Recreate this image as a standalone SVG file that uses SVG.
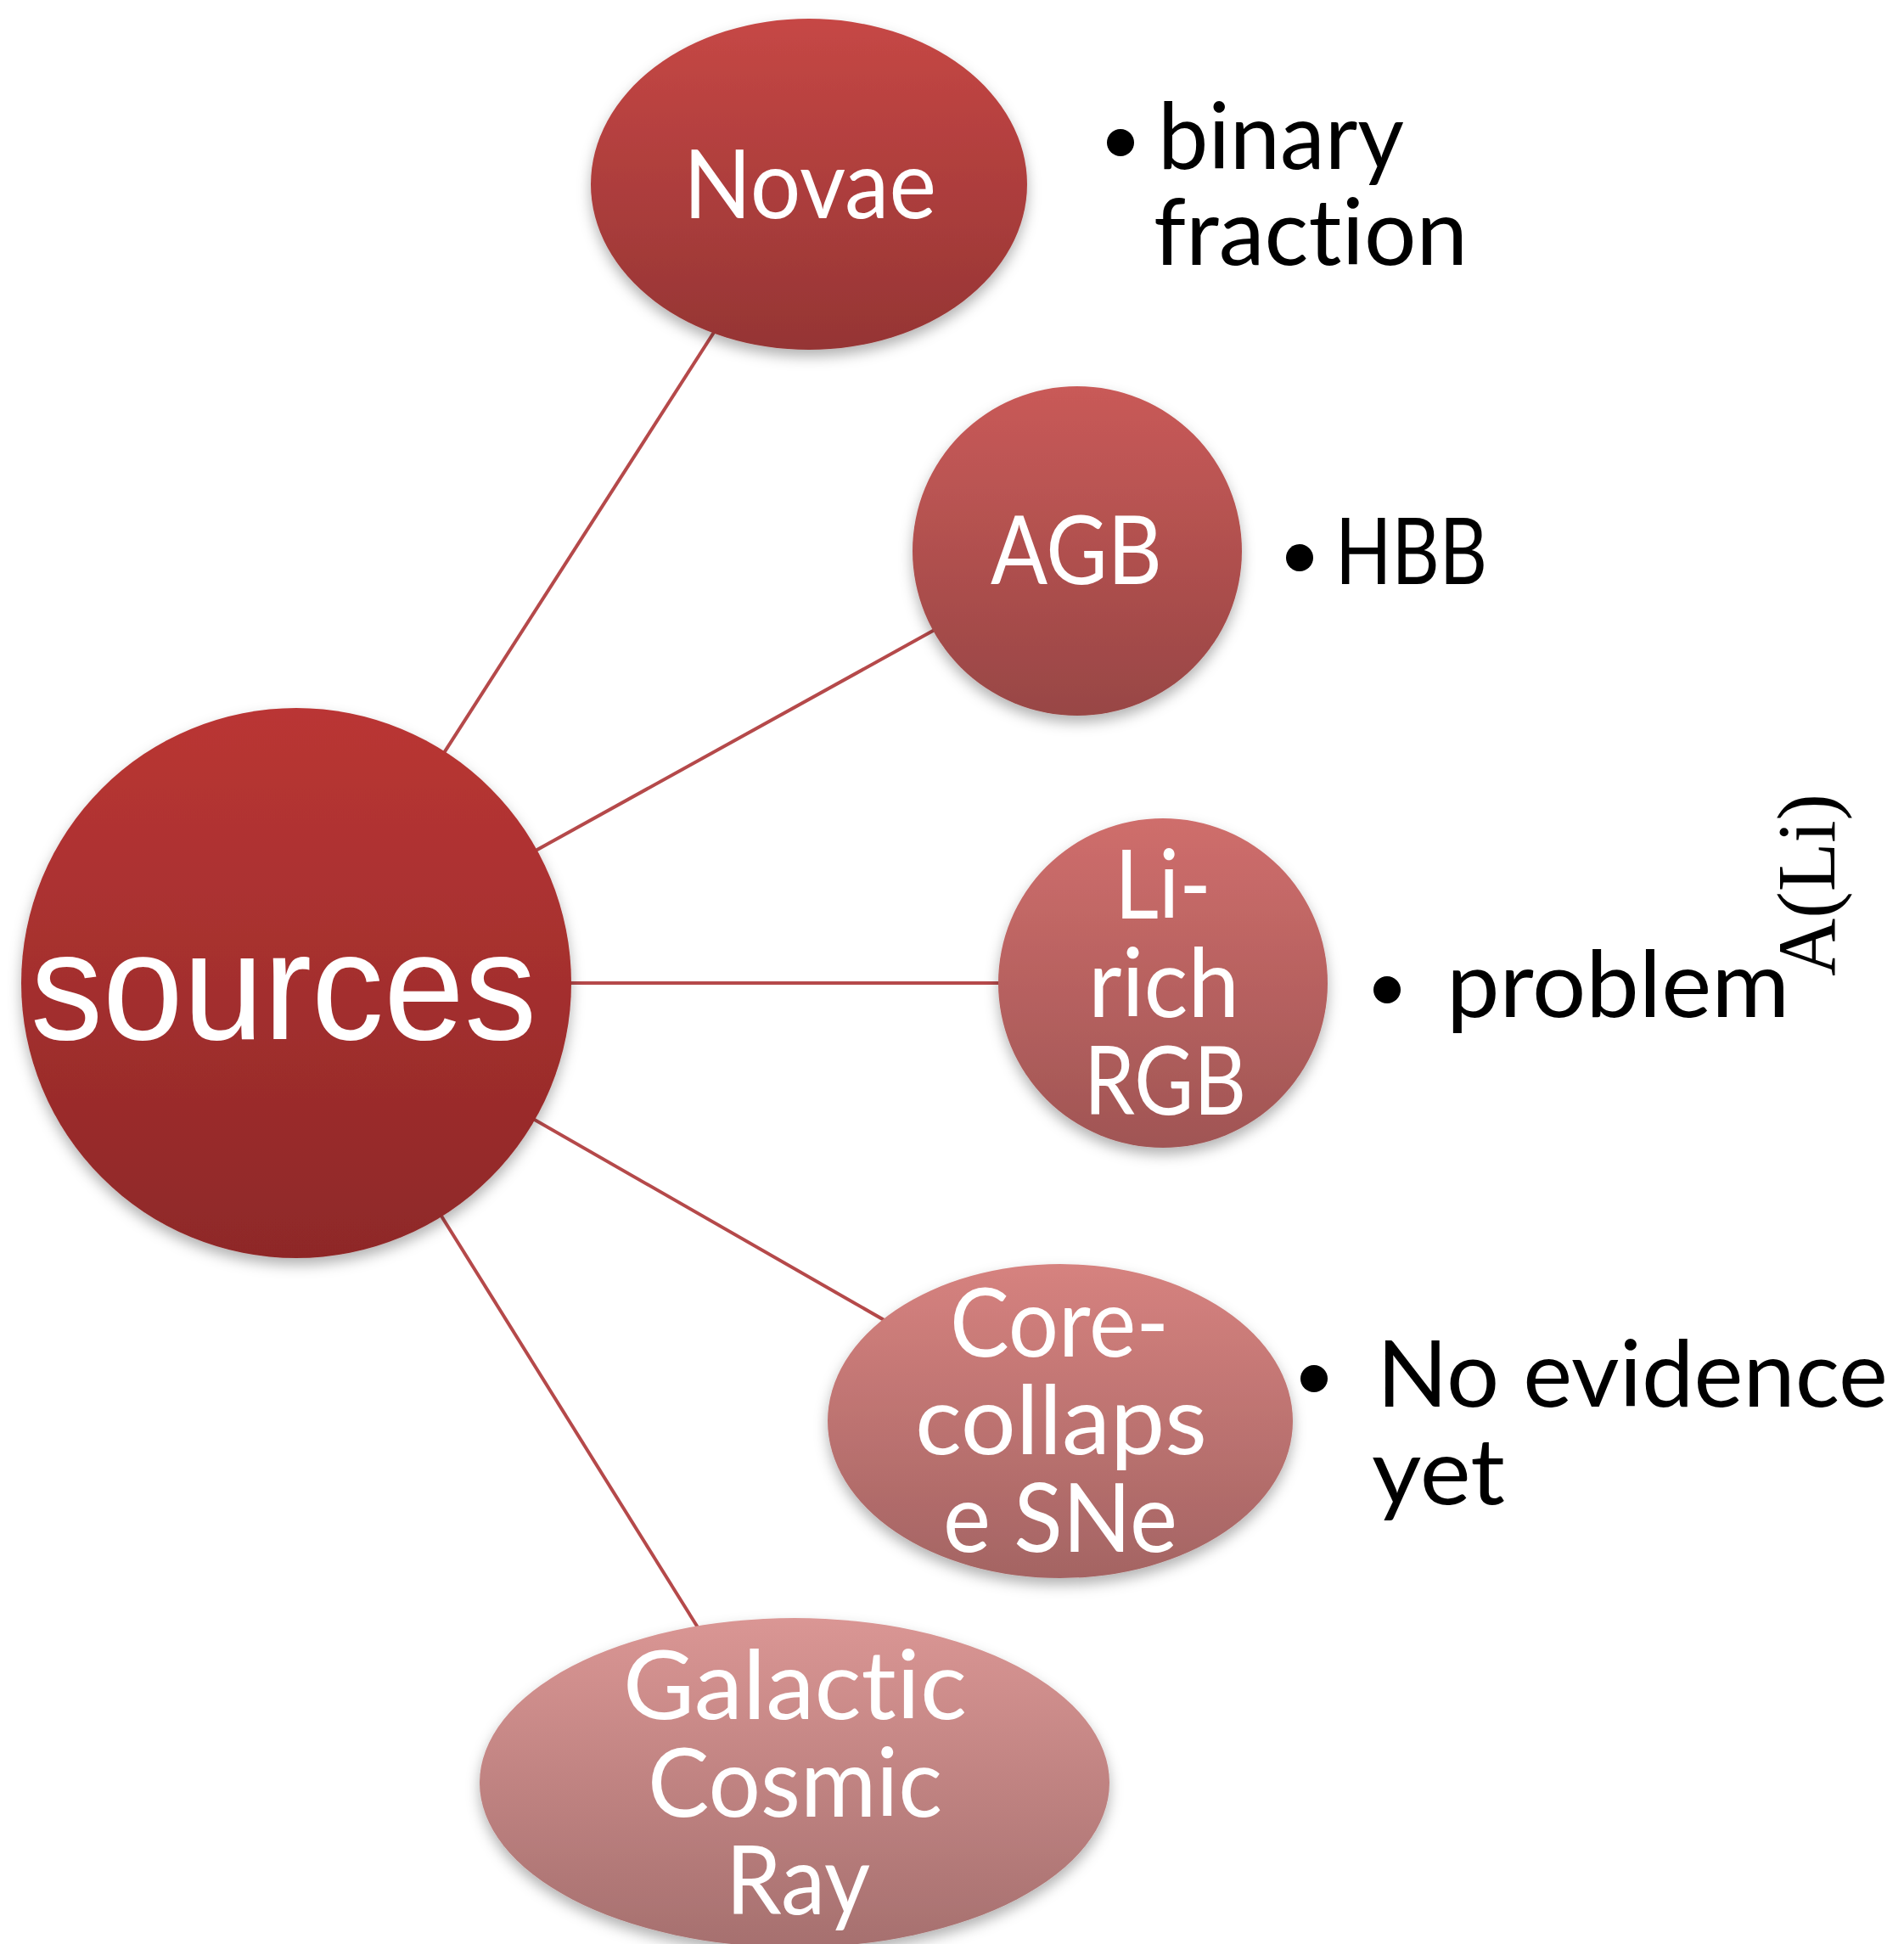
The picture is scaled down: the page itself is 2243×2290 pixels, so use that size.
<svg xmlns="http://www.w3.org/2000/svg" width="2243" height="2290" viewBox="0 0 2243 2290">
<style>
.lbl{font-family:Lato,"Open Sans","Liberation Sans",sans-serif;font-size:112px;fill:#ffffff;font-variant-ligatures:none;font-feature-settings:"liga" 0,"clig" 0,"dlig" 0}
.big{font-family:"Liberation Sans",Arial,sans-serif;font-size:180px;fill:#ffffff}
.note{font-family:Lato,"Open Sans","Liberation Sans",sans-serif;font-size:108px;fill:#000000;font-variant-ligatures:none;font-feature-settings:"liga" 0,"clig" 0,"dlig" 0}
.conn{stroke:#b5494a;stroke-width:4;fill:none}
.dot{fill:#000000}
</style>
<defs>
<filter id="sh" x="-20%" y="-20%" width="140%" height="150%">
<feDropShadow dx="0" dy="8" stdDeviation="8" flood-color="#000000" flood-opacity="0.3"/>
</filter>
<linearGradient id="g0" x1="0" y1="0" x2="0" y2="1"><stop offset="0" stop-color="#ba3634"/><stop offset="1" stop-color="#8e2828"/></linearGradient>
<linearGradient id="g1" x1="0" y1="0" x2="0" y2="1"><stop offset="0" stop-color="#c64745"/><stop offset="1" stop-color="#953534"/></linearGradient>
<linearGradient id="g2" x1="0" y1="0" x2="0" y2="1"><stop offset="0" stop-color="#c95a58"/><stop offset="1" stop-color="#984645"/></linearGradient>
<linearGradient id="g3" x1="0" y1="0" x2="0" y2="1"><stop offset="0" stop-color="#cf6e6c"/><stop offset="1" stop-color="#a05554"/></linearGradient>
<linearGradient id="g4" x1="0" y1="0" x2="0" y2="1"><stop offset="0" stop-color="#d6827f"/><stop offset="1" stop-color="#a46463"/></linearGradient>
<linearGradient id="g5" x1="0" y1="0" x2="0" y2="1"><stop offset="0" stop-color="#da9694"/><stop offset="1" stop-color="#a6706f"/></linearGradient>
</defs>
<rect width="2243" height="2290" fill="#ffffff"/>
<g id="connectors">
<line class="conn" x1="349" y1="1158" x2="953" y2="217"/>
<line class="conn" x1="349" y1="1158" x2="1269" y2="649"/>
<line class="conn" x1="349" y1="1158" x2="1370" y2="1158"/>
<line class="conn" x1="349" y1="1158" x2="1249" y2="1674"/>
<line class="conn" x1="349" y1="1158" x2="936" y2="2100"/>
</g>
<g id="node-sources">
<circle cx="349" cy="1158" r="324" fill="url(#g0)" filter="url(#sh)"/>
<text class="big" x="36" y="1224" textLength="596" lengthAdjust="spacingAndGlyphs">sources</text>
</g>
<g id="node-novae">
<ellipse cx="953" cy="217" rx="257" ry="195" fill="url(#g1)" filter="url(#sh)"/>
<text class="lbl" x="805" y="257" textLength="298" lengthAdjust="spacingAndGlyphs">Novae</text>
</g>
<g id="node-agb">
<circle cx="1269" cy="649" r="194" fill="url(#g2)" filter="url(#sh)"/>
<text class="lbl" x="1167" y="688" textLength="202" lengthAdjust="spacingAndGlyphs">AGB</text>
</g>
<g id="node-lirgb">
<circle cx="1370" cy="1158" r="194" fill="url(#g3)" filter="url(#sh)"/>
<text class="lbl" x="1313" y="1082" textLength="114" lengthAdjust="spacingAndGlyphs">Li-</text>
<text class="lbl" x="1282" y="1198" textLength="178" lengthAdjust="spacingAndGlyphs">rich</text>
<text class="lbl" x="1277" y="1313" textLength="191" lengthAdjust="spacingAndGlyphs">RGB</text>
</g>
<g id="node-ccsne">
<ellipse cx="1249" cy="1674" rx="274" ry="185" fill="url(#g4)" filter="url(#sh)"/>
<text class="lbl" x="1119" y="1598" textLength="258" lengthAdjust="spacingAndGlyphs">Core-</text>
<text class="lbl" x="1078" y="1713" textLength="344" lengthAdjust="spacingAndGlyphs">collaps</text>
<text class="lbl" x="1111" y="1828" textLength="276" lengthAdjust="spacingAndGlyphs">e SNe</text>
</g>
<g id="node-gcr">
<ellipse cx="936" cy="2100" rx="371" ry="194" fill="url(#g5)" filter="url(#sh)"/>
<text class="lbl" x="734" y="2025" textLength="405" lengthAdjust="spacingAndGlyphs">Galact<tspan dx="0.5">ic</tspan></text>
<text class="lbl" x="763" y="2140" textLength="347" lengthAdjust="spacingAndGlyphs">Cosmic</text>
<text class="lbl" x="855" y="2255" textLength="170" lengthAdjust="spacingAndGlyphs">Ray</text>
</g>
<g id="notes">
<circle class="dot" cx="1320" cy="168" r="16"/>
<text class="note" x="1364" y="199" textLength="290" lengthAdjust="spacingAndGlyphs">binary</text>
<text class="note" x="1359" y="312" textLength="370" lengthAdjust="spacingAndGlyphs">fract<tspan dx="0.5">ion</tspan></text>
<circle class="dot" cx="1531" cy="657" r="16"/>
<text class="note" x="1573" y="688" textLength="179" lengthAdjust="spacingAndGlyphs">HBB</text>
<circle class="dot" cx="1634" cy="1166" r="16"/>
<text class="note" x="1704" y="1198" textLength="404" lengthAdjust="spacingAndGlyphs">problem</text>
<circle class="dot" cx="1548" cy="1624" r="16"/>
<text class="note" x="1622" y="1657" textLength="602" lengthAdjust="spacingAndGlyphs">No evidence</text>
<text class="note" x="1616" y="1772" textLength="157" lengthAdjust="spacingAndGlyphs">yet</text>
<text x="0" y="0" transform="translate(2161,1150) rotate(-90)" font-family="'Liberation Serif','Times New Roman',serif" font-size="98" fill="#000000" textLength="215" lengthAdjust="spacingAndGlyphs">A(Li)</text>
</g>
</svg>
